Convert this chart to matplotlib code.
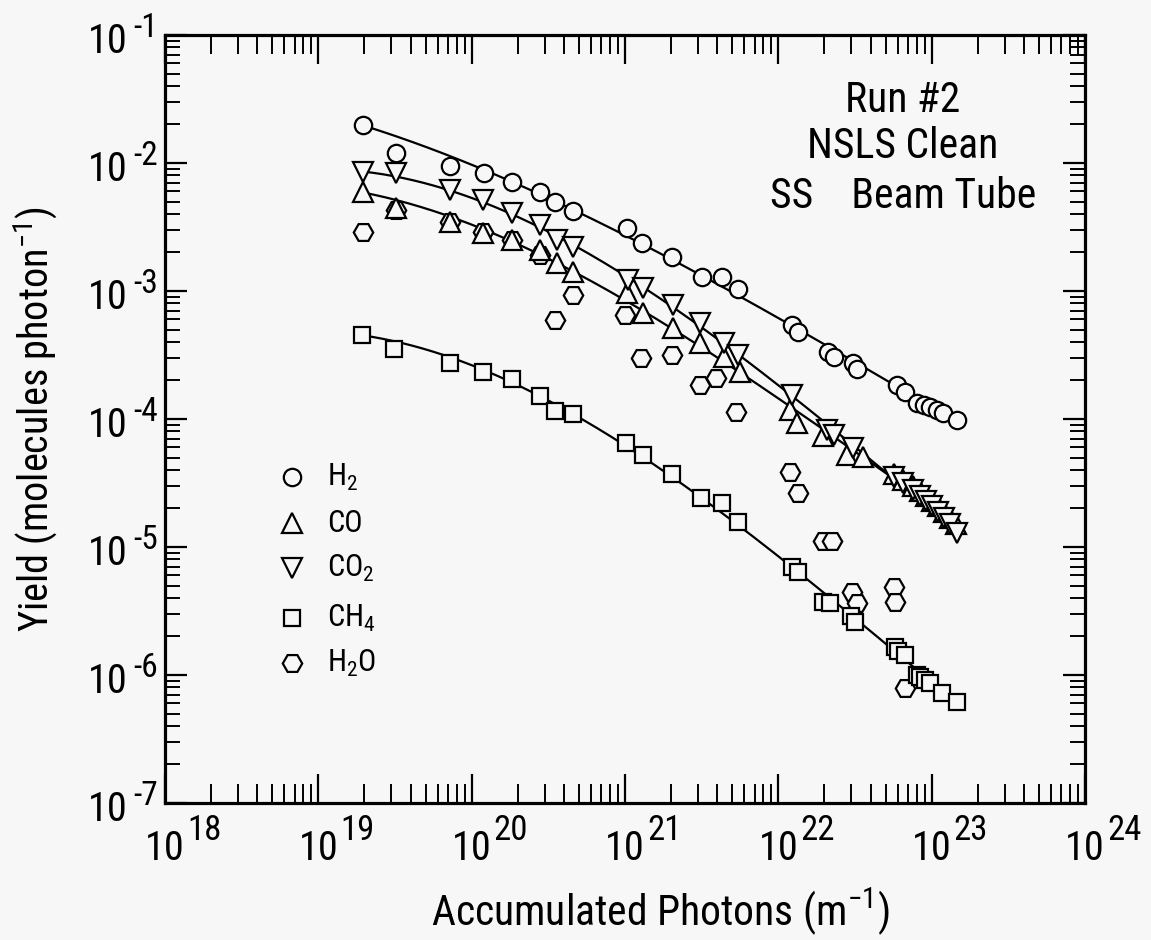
import numpy as np
import matplotlib
matplotlib.use("Agg")
import matplotlib.pyplot as plt
from matplotlib import font_manager as fm
from matplotlib.ticker import LogLocator, NullFormatter

# ---------------- data ----------------
h2_x = [1.97e19, 3.21e19, 7.2e19, 1.21e20, 1.83e20, 2.79e20, 3.5e20, 4.6e20,
        1.03e21, 1.29e21, 2.02e21, 3.17e21, 4.28e21, 5.49e21, 1.22e22, 1.35e22,
        2.12e22, 2.29e22, 3.09e22, 3.25e22, 5.93e22, 6.72e22, 8.0e22, 8.85e22,
        9.8e22, 1.08e23, 1.19e23, 1.46e23]
h2_y = [1.98e-2, 1.20e-2, 9.5e-3, 8.4e-3, 7.1e-3, 5.97e-3, 4.99e-3, 4.2e-3,
        3.09e-3, 2.36e-3, 1.85e-3, 1.29e-3, 1.29e-3, 1.03e-3, 5.42e-4, 4.81e-4,
        3.36e-4, 3.07e-4, 2.72e-4, 2.45e-4, 1.85e-4, 1.63e-4, 1.33e-4, 1.29e-4,
        1.25e-4, 1.18e-4, 1.11e-4, 9.8e-5]

co_x = [1.97e19, 3.21e19, 7.2e19, 1.19e20, 1.83e20, 2.79e20, 3.59e20, 4.6e20,
        1.03e21, 1.32e21, 2.07e21, 3.09e21, 4.39e21, 5.64e21, 1.19e22, 1.33e22,
        1.97e22, 2.80e22, 3.59e22, 5.64e22, 6.5e22, 7.57e22, 8.41e22, 9.2e22,
        1.01e23, 1.10e23, 1.21e23, 1.32e23, 1.44e23]
co_y = [5.9e-3, 4.43e-3, 3.47e-3, 2.83e-3, 2.5e-3, 2.09e-3, 1.66e-3, 1.41e-3,
        9.6e-4, 6.7e-4, 5.1e-4, 3.9e-4, 3.07e-4, 2.34e-4, 1.18e-4, 9.25e-5,
        7.3e-5, 5.24e-5, 5.08e-5, 3.72e-5, 3.33e-5, 3.0e-5, 2.74e-5, 2.5e-5,
        2.29e-5, 2.09e-5, 1.88e-5, 1.69e-5, 1.51e-5]

co2_x = [1.97e19, 3.21e19, 7.2e19, 1.19e20, 1.83e20, 2.79e20, 3.59e20, 4.6e20,
         1.05e21, 1.32e21, 2.07e21, 3.09e21, 4.39e21, 5.49e21, 1.22e22, 2.07e22,
         2.29e22, 3.09e22, 5.64e22, 6.55e22, 7.57e22, 8.41e22, 9.2e22, 1.01e23,
         1.10e23, 1.21e23, 1.32e23, 1.46e23]
co2_y = [8.55e-3, 8.3e-3, 6.15e-3, 5.14e-3, 4.05e-3, 3.28e-3, 2.5e-3, 2.22e-3,
         1.22e-3, 1.05e-3, 7.78e-4, 5.6e-4, 3.9e-4, 3.16e-4, 1.54e-4, 8.2e-5,
         7.5e-5, 5.9e-5, 3.54e-5, 3.14e-5, 2.79e-5, 2.5e-5, 2.29e-5, 2.09e-5,
         1.88e-5, 1.69e-5, 1.51e-5, 1.28e-5]

ch4_x = [1.94e19, 3.13e19, 7.2e19, 1.19e20, 1.83e20, 2.77e20, 3.5e20, 4.6e20,
         1.02e21, 1.31e21, 2.02e21, 3.14e21, 4.28e21, 5.49e21, 1.22e22, 1.35e22,
         1.96e22, 2.18e22, 3.0e22, 3.17e22, 5.78e22, 6.0e22, 6.72e22, 8.0e22,
         8.4e22, 9.0e22, 9.8e22, 1.17e23, 1.46e23]
ch4_y = [4.53e-4, 3.52e-4, 2.76e-4, 2.32e-4, 2.05e-4, 1.52e-4, 1.16e-4, 1.10e-4,
         6.5e-5, 5.28e-5, 3.74e-5, 2.4e-5, 2.19e-5, 1.56e-5, 7.0e-6, 6.4e-6,
         3.74e-6, 3.63e-6, 2.89e-6, 2.6e-6, 1.66e-6, 1.54e-6, 1.43e-6, 1.0e-6,
         9.6e-7, 9.1e-7, 8.6e-7, 7.2e-7, 6.18e-7]

h2o_x = [1.97e19, 3.21e19, 7.2e19, 1.19e20, 1.83e20, 2.79e20, 3.5e20, 4.6e20,
         1.0e21, 1.28e21, 2.02e21, 3.09e21, 3.93e21, 5.32e21, 1.19e22, 1.35e22,
         1.97e22, 2.23e22, 3.01e22, 3.25e22, 5.64e22, 5.78e22, 6.72e22]
h2o_y = [2.9e-3, 4.3e-3, 3.47e-3, 2.9e-3, 2.5e-3, 1.91e-3, 5.93e-4, 9.3e-4,
         6.5e-4, 2.98e-4, 3.16e-4, 1.85e-4, 2.08e-4, 1.14e-4, 3.87e-5, 2.63e-5,
         1.12e-5, 1.12e-5, 4.48e-6, 3.63e-6, 4.9e-6, 3.74e-6, 7.9e-7]

labels = ["H$_2$", "CO", "CO$_2$", "CH$_4$", "H$_2$O"]
decades_x = [18, 19, 20, 21, 22, 23, 24]
decades_y = [-1, -2, -3, -4, -5, -6, -7]
annotation = ["Run #2", "NSLS Clean", "SS    Beam Tube"]

# ---------------- fonts ----------------
names = {f.name for f in fm.fontManager.ttflist}
FONT = next((n for n in ["Liberation Sans Narrow", "Roboto Condensed",
                         "Open Sans Condensed", "Liberation Sans"] if n in names),
            "DejaVu Sans")
plt.rcParams["font.family"] = [FONT, "DejaVu Sans"]
plt.rcParams["mathtext.fontset"] = "custom"
plt.rcParams["mathtext.rm"] = FONT
plt.rcParams["mathtext.it"] = FONT
plt.rcParams["mathtext.bf"] = FONT

BG = "#f7f7f7"
W, H = 1151, 940
fig = plt.figure(figsize=(W / 100, H / 100), dpi=100, facecolor=BG)
L, R, T, B = 165, 1085, 35, 803
ax = fig.add_axes([L / W, (H - B) / H, (R - L) / W, (B - T) / H], facecolor=BG)
ax.set_xscale("log")
ax.set_yscale("log")
ax.set_xlim(1e18, 1e24)
ax.set_ylim(1e-7, 1e-1)

# ---------------- smooth fit curves + markers ----------------
def fit_curve(x, y, deg=3):
    lx, ly = np.log10(x), np.log10(y)
    w = np.ones_like(lx)
    w[0] = 6.0
    w[-1] = 3.0
    p = np.polyfit(lx, ly, deg, w=w)
    xs = np.linspace(lx.min(), lx.max(), 300)
    ax.plot(10 ** xs, 10 ** np.polyval(p, xs), color="black", lw=1.6, zorder=2)

for xx, yy in [(h2_x, h2_y), (co_x, co_y), (co2_x, co2_y), (ch4_x, ch4_y)]:
    fit_curve(np.array(xx), np.array(yy))

mk = dict(ls="none", mfc=BG, mec="black", mew=1.6, zorder=3)
series = [(h2_x, h2_y, "o", 12.5), (co_x, co_y, "^", 14), (co2_x, co2_y, "v", 14),
          (ch4_x, ch4_y, "s", 12), (h2o_x, h2o_y, "H", 14)]
for xx, yy, m, s in [series[4], series[3], series[1], series[2], series[0]]:
    ax.plot(xx, yy, marker=m, ms=s, **mk)

# ---------------- axes styling ----------------
for sp in ax.spines.values():
    sp.set_linewidth(2.3)
ax.xaxis.set_major_locator(LogLocator(base=10, numticks=20))
ax.xaxis.set_minor_locator(LogLocator(base=10, subs=np.arange(2, 10), numticks=100))
ax.yaxis.set_major_locator(LogLocator(base=10, numticks=20))
ax.yaxis.set_minor_locator(LogLocator(base=10, subs=np.arange(2, 10), numticks=100))
for a in (ax.xaxis, ax.yaxis):
    a.set_major_formatter(NullFormatter())
    a.set_minor_formatter(NullFormatter())
ax.tick_params(which="both", direction="in", top=True, right=True, color="black")
ax.tick_params(axis="x", which="major", length=21, width=1.6)
ax.tick_params(axis="x", which="minor", length=14, width=1.4)
ax.tick_params(axis="y", which="major", length=16, width=1.6)
ax.tick_params(axis="y", which="minor", length=11, width=1.4)

# tick labels: "10" with large exponents
for e in decades_x:
    ax.annotate("10", xy=(10.0 ** e, 0), xycoords=("data", "axes fraction"),
                xytext=(0, -57), textcoords="offset pixels", ha="center",
                va="baseline", fontsize=29, annotation_clip=False)
    ax.annotate(str(e), xy=(10.0 ** e, 0), xycoords=("data", "axes fraction"),
                xytext=(22, -37), textcoords="offset pixels", ha="left",
                va="baseline", fontsize=25, annotation_clip=False)
for e in decades_y:
    ax.annotate("10", xy=(0, 10.0 ** e), xycoords=("axes fraction", "data"),
                xytext=(-37, -18), textcoords="offset pixels", ha="right",
                va="baseline", fontsize=29, annotation_clip=False)
    ax.annotate(str(e), xy=(0, 10.0 ** e), xycoords=("axes fraction", "data"),
                xytext=(-32, -2), textcoords="offset pixels", ha="left",
                va="baseline", fontsize=24, annotation_clip=False)

fig.text(660 / W, 1 - 912 / H, "Accumulated Photons (m$^{-1}$)", ha="center",
         va="center", fontsize=30)
fig.text(36 / W, 1 - 419 / H, "Yield (molecules photon$^{-1}$)", ha="center",
         va="center", rotation=90, fontsize=29)

# annotation block
for txt, ypx in zip(annotation, [100, 147, 197]):
    fig.text(903 / W, 1 - ypx / H, txt, ha="center", va="center", fontsize=30)

# legend (manual)
leg_rows = [477, 523, 568, 618, 663]
for (xx, yy, m, s), lab, ypx in zip(series, labels, leg_rows):
    yf = (B - ypx) / (B - T)
    ax.plot([(292 - L) / (R - L)], [yf], marker=m, ms=s, transform=ax.transAxes,
            clip_on=False, **mk)
    ax.text((327 - L) / (R - L), yf, lab, transform=ax.transAxes, ha="left",
            va="center", fontsize=22)

fig.savefig("out.png", dpi=100, facecolor=BG)
